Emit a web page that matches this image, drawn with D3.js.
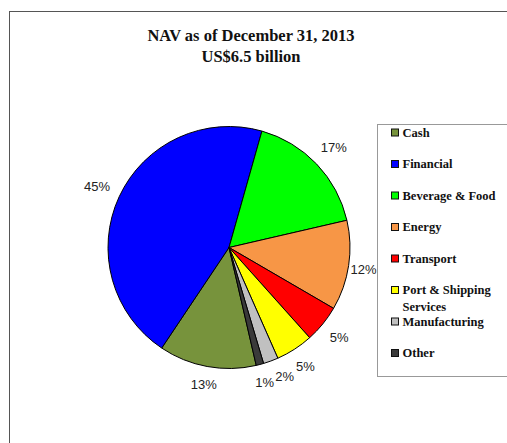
<!DOCTYPE html>
<html>
<head>
<meta charset="utf-8">
<script src="https://cdn.jsdelivr.net/npm/d3@7"></script>
<style>
  html, body { margin: 0; padding: 0; background: #fff; }
  svg { display: block; }
</style>
</head>
<body>
<svg id="chart" width="507" height="443"></svg>
<script>
// ---- data ----
const categories = ["Cash", "Financial", "Beverage & Food", "Energy", "Transport", "Port & Shipping Services", "Manufacturing", "Other"];
const values = [13, 45, 17, 12, 5, 5, 2, 1];
const legendLines = [["Cash"], ["Financial"], ["Beverage & Food"], ["Energy"], ["Transport"], ["Port & Shipping", "Services"], ["Manufacturing"], ["Other"]];
const colors = ["#77933c", "#0000ff", "#00ff00", "#f79646", "#ff0000", "#ffff00", "#c0c0c0", "#3a3a3a"];
const titleLines = ["NAV as of December 31, 2013", "US$6.5 billion"];

const svg = d3.select("#chart");

// outer frame
svg.append("rect")
  .attr("x", 9.5).attr("y", 11.5)
  .attr("width", 620).attr("height", 620)
  .attr("fill", "none").attr("stroke", "#555").attr("stroke-width", 1);

// title
const serif = "'Palatino Linotype','Book Antiqua',Palatino,'Liberation Serif','Times New Roman',serif";
svg.append("g").selectAll("text").data(titleLines).join("text")
  .attr("x", 251).attr("y", (d, i) => 41 + i * 21)
  .attr("text-anchor", "middle")
  .attr("font-family", serif).attr("font-weight", "bold").attr("font-size", 16.5)
  .attr("fill", "#111")
  .text(d => d);

// legend
const lx = 377.5, ly = 124.5;
svg.append("rect")
  .attr("x", lx).attr("y", ly).attr("width", 200).attr("height", 252)
  .attr("fill", "#fff").attr("stroke", "#999").attr("stroke-width", 1);
const rowY = d3.scaleLinear().domain([0, 1]).range([132.5, 164]);
const lg = svg.append("g");
const items = lg.selectAll("g").data(categories).join("g")
  .attr("transform", (d, i) => `translate(0,${rowY(i)})`);
items.append("rect")
  .attr("x", 391.5).attr("y", -3.5).attr("width", 7).attr("height", 7)
  .attr("fill", (d, i) => colors[i]).attr("stroke", "#111").attr("stroke-width", 1);
items.append("text")
  .attr("x", 402.5).attr("y", 4)
  .attr("font-family", serif).attr("font-weight", "bold").attr("font-size", 12.5)
  .attr("fill", "#111")
  .each(function (d, i) {
    const t = d3.select(this);
    legendLines[i].forEach((ln, j) => {
      t.append("tspan").attr("x", 402.5).attr("dy", j === 0 ? 0 : 16.5).text(ln);
    });
  });

// pie
const cx = 229, cy = 247.5, r = 121;
const startDeg = 167;
const pie = d3.pie().sort(null).value(d => d)
  .startAngle(startDeg * Math.PI / 180)
  .endAngle((startDeg + 360) * Math.PI / 180);
const arcs = pie(values);
const arc = d3.arc().innerRadius(0).outerRadius(r);
const g = svg.append("g").attr("transform", `translate(${cx},${cy})`);
g.selectAll("path").data(arcs).join("path")
  .attr("d", arc)
  .attr("fill", (d, i) => colors[i])
  .attr("stroke", "#000").attr("stroke-width", 1).attr("stroke-linejoin", "round");

// labels: "outside end" – the label box sits a small gap outside the rim
const gap = 10, lh = 12;
const lbls = g.selectAll("text.lbl").data(arcs).join("text")
  .attr("class", "lbl")
  .attr("text-anchor", "middle").attr("dominant-baseline", "central")
  .attr("font-family", "'Liberation Sans',Arial,sans-serif").attr("font-size", 13)
  .attr("fill", "#222")
  .text(d => d.data + "%");
const pos = [];
lbls.each(function (d, i) {
  pos[i] = { a: (d.startAngle + d.endAngle) / 2, w: this.getComputedTextLength(), h: lh };
});
function place(p) {
  const sx = Math.sin(p.a), sy = -Math.cos(p.a);
  const dist = r + gap + Math.abs(sx) * p.w / 2 + Math.abs(sy) * p.h / 2;
  p.x = dist * sx; p.y = dist * sy;
  // keep labels inside the plot area (left of the legend)
  const maxX = lx - cx - p.w / 2 - 1;
  if (p.x > maxX) p.x = maxX;
}
pos.forEach(place);
function overlaps(p, q) {
  return Math.abs(p.x - q.x) < (p.w + q.w) / 2 + 1 && Math.abs(p.y - q.y) < (p.h + q.h) / 2 - 3;
}
for (let i = pos.length - 2; i >= 0; i--) {
  const p = pos[i], q = pos[i + 1];
  let steps = 0;
  while (overlaps(p, q) && steps < 80) { p.a -= 0.005; place(p); steps++; }
}
lbls.attr("transform", (d, i) => `translate(${pos[i].x},${pos[i].y})`);
</script>
</body>
</html>
